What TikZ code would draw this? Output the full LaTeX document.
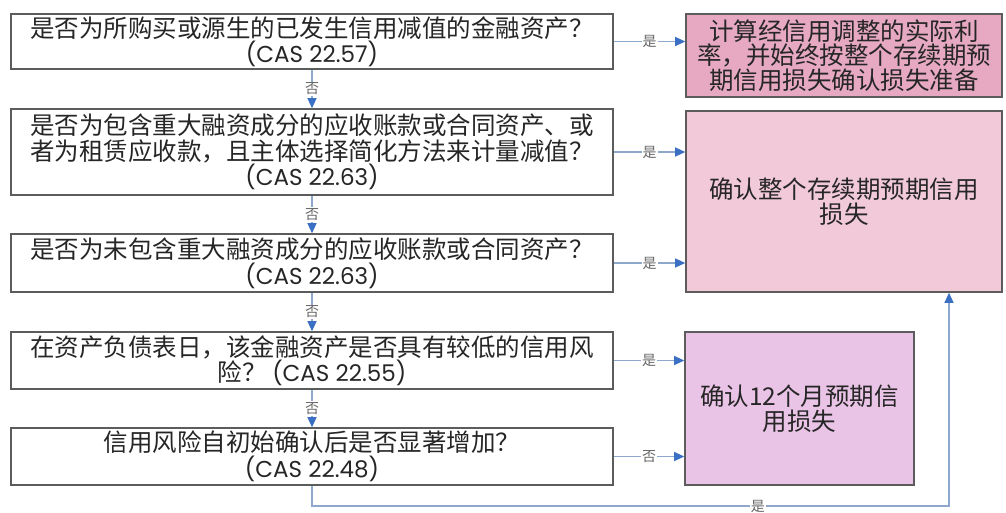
\documentclass[tikz,border=0pt]{standalone}
\usepackage{fontspec}
\setmainfont{Noto Sans CJK SC}
\newfontfamily\latin{Poppins}
\usepackage{tikz}
\usetikzlibrary{arrows.meta}
\definecolor{boxline}{HTML}{5C5C5C}
\definecolor{linkline}{HTML}{8EA7CD}
\definecolor{tipblue}{HTML}{3A6FC4}
\definecolor{rose}{HTML}{E6A9C1}
\definecolor{lightrose}{HTML}{F1C9D9}
\definecolor{lilac}{HTML}{EAC4E6}
\newcommand{\casref}[1]{{\latin\fontsize{23}{25.5}\selectfont (CAS #1)}}
\tikzset{
    question/.style={draw=boxline, line width=1.6pt, fill=white, text=black!85, minimum width=602pt,
        align=center, inner sep=0pt, font=\fontsize{24.5}{25.5}\selectfont},
    result/.style={draw=boxline, line width=1.6pt, text=black!85, align=center, inner sep=0pt,
        font=\fontsize{24.5}{24.5}\selectfont},
    link/.style={draw=linkline, line width=1.2pt, -{Triangle[length=10pt,width=9pt,color=tipblue]}},
    answer/.style={fill=white, text=black!60, inner sep=1pt, font=\fontsize{14}{14}\selectfont}
}

\begin{document}
\begin{tikzpicture}[x=1pt,y=-1pt]
    \useasboundingbox (0,0) rectangle (1006,512);
    \node[question, minimum height=55pt] (q1) at (312,41.5)
        {是否为所购买或源生的已发生信用减值的金融资产？\\\casref{22.57}};
    \node[question, minimum height=86pt] (q2) at (312,152)
        {是否为包含重大融资成分的应收账款或合同资产、或\\者为租赁应收款，且主体选择简化方法来计量减值？\\\casref{22.63}};
    \node[question, minimum height=58pt] (q3) at (312,263)
        {是否为未包含重大融资成分的应收账款或合同资产？\\\casref{22.63}};
    \node[question, minimum height=57pt] (q4) at (312,360.5)
        {在资产负债表日，该金融资产是否具有较低的信用风\\险？ \casref{22.55}};
    \node[question, minimum height=57pt] (q5) at (312,456.5)
        {信用风险自初始确认后是否显著增加？\\\casref{22.48}};
    \node[result, fill=rose, minimum width=316pt, minimum height=83pt] (r1) at (844,55.5)
        {计算经信用调整的实际利\\率，并始终按整个存续期预\\期信用损失确认损失准备};
    \node[result, fill=lightrose, minimum width=316pt, minimum height=181pt] (r2) at (844,201.5)
        {确认整个存续期预期信用\\损失};
    \node[result, fill=lilac, minimum width=229pt, minimum height=153pt] (r3) at (799.5,408.5)
        {确认12个月预期信\\用损失};
    \foreach \a/\b in {q1/q2,q2/q3,q3/q4,q4/q5}
        \draw[link] (\a) -- (\b) node[answer, midway] {否};
    \foreach \a/\b/\t in {q1/r1/是,q2/r2/是,q3/r2/是,q4/r3/是,q5/r3/否}
        \draw[link] (\a.east) -- (\a.east -| \b.west) node[answer, midway] {\t};
    \coordinate (corner) at (949,506);
    \draw[link] (q5.south) |- (corner) node[answer, pos=0.85] {是} -- (corner |- r2.south);
\end{tikzpicture}
\end{document}
